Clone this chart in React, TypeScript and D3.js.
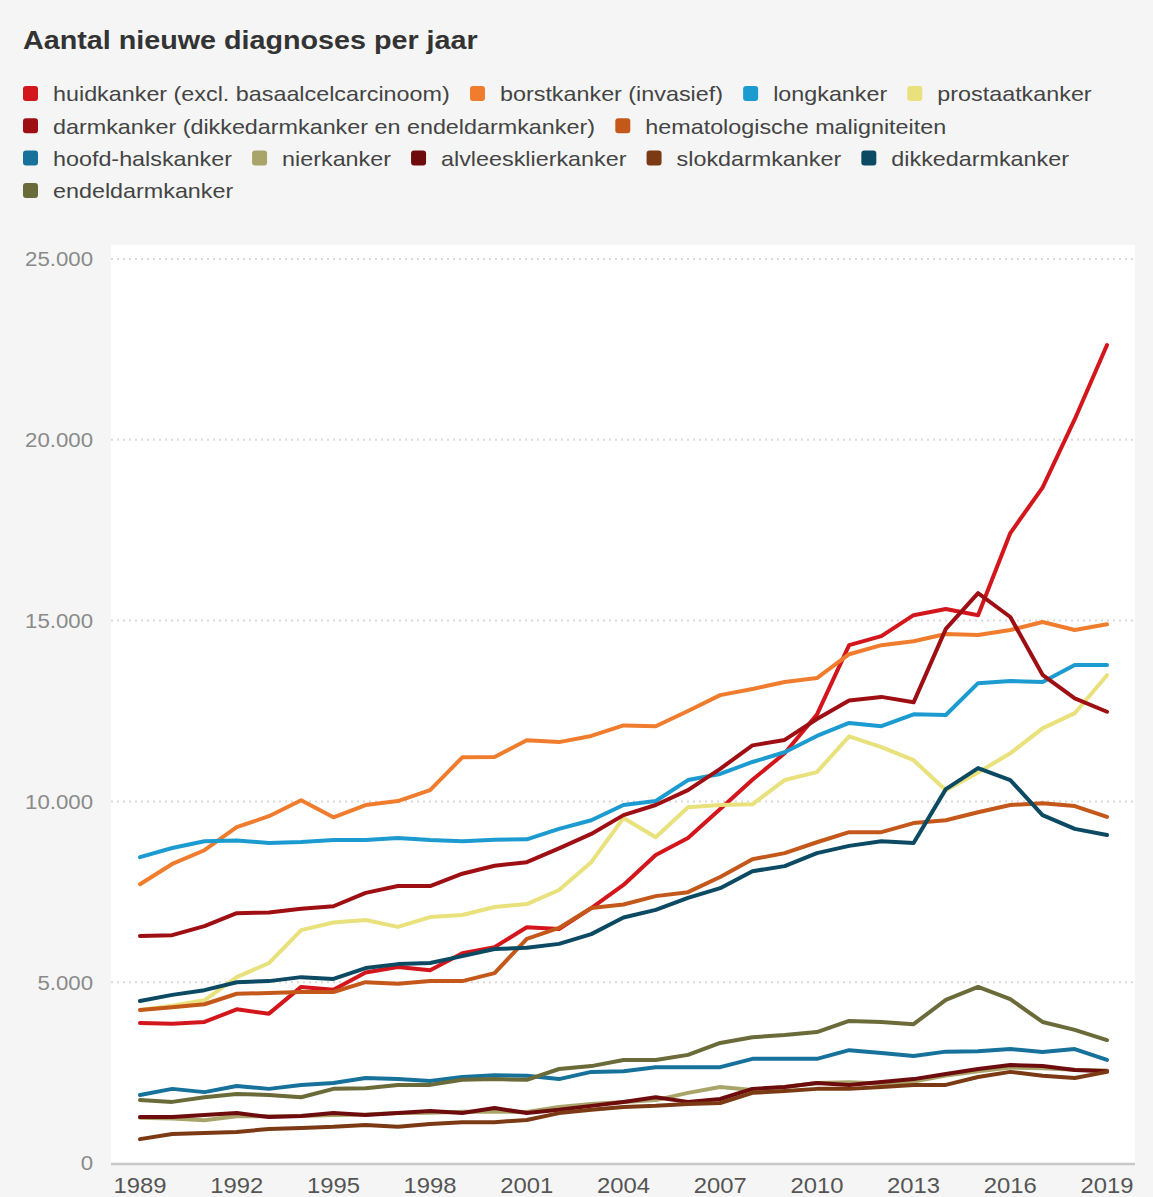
import React, { useMemo } from "react";
import * as d3 from "d3";

const years = d3.range(1989, 2020);
const xTickYears = [1989, 1992, 1995, 1998, 2001, 2004, 2007, 2010, 2013, 2016, 2019];
const yTicks = [0, 5000, 10000, 15000, 20000, 25000];

const title = "Aantal nieuwe diagnoses per jaar";

const names = [
  "huidkanker (excl. basaalcelcarcinoom)",
  "borstkanker (invasief)",
  "longkanker",
  "prostaatkanker",
  "darmkanker (dikkedarmkanker en endeldarmkanker)",
  "hematologische maligniteiten",
  "hoofd-halskanker",
  "nierkanker",
  "alvleesklierkanker",
  "slokdarmkanker",
  "dikkedarmkanker",
  "endeldarmkanker",
];

const colors = [
  "#d3161c", "#ef7d2d", "#1c9bd0", "#e8e17c", "#9e0f14", "#c4581b",
  "#16729b", "#a9a56a", "#6e0b0d", "#7b3a14", "#0b4a62", "#6b6b39",
];

const huid = [3870,3850,3900,4250,4130,4870,4790,5270,5420,5330,5800,5970,6520,6470,7050,7690,8520,8990,9790,10600,11330,12400,14320,14570,15150,15320,15150,17420,18680,20570,22620];
const borst = [7710,8270,8650,9290,9590,10030,9560,9900,10010,10310,11220,11230,11690,11640,11810,12100,12080,12500,12940,13110,13300,13410,14070,14320,14430,14630,14600,14740,14960,14740,14900];
const long = [8460,8710,8900,8920,8850,8880,8930,8930,8990,8930,8900,8940,8950,9240,9480,9900,10010,10590,10760,11090,11360,11810,12170,12080,12410,12390,13270,13330,13300,13770,13770];
const prostaat = [4230,4350,4500,5140,5530,6440,6650,6720,6530,6800,6860,7080,7160,7550,8320,9540,9010,9840,9900,9920,10590,10810,11800,11500,11140,10310,10800,11330,12020,12440,13490];
const darm = [6280,6300,6550,6910,6930,7030,7100,7470,7660,7660,8000,8220,8320,8700,9100,9620,9900,10310,10900,11550,11700,12280,12790,12890,12740,14770,15760,15100,13500,12850,12480];
const hemato = [4230,4310,4390,4680,4700,4730,4730,5000,4960,5030,5030,5250,6200,6500,7050,7150,7380,7490,7910,8400,8570,8870,9150,9150,9400,9480,9700,9900,9950,9870,9570];
const hoofdhals = [1880,2050,1960,2130,2050,2160,2210,2350,2320,2270,2380,2430,2410,2320,2520,2540,2650,2650,2650,2880,2880,2880,3120,3040,2960,3080,3090,3150,3070,3150,2850];
const nier = [1250,1230,1180,1290,1290,1300,1330,1340,1380,1390,1420,1420,1410,1550,1630,1690,1740,1940,2100,2020,2100,2210,2230,2200,2250,2420,2540,2640,2620,2580,2560];
const alvlees = [1270,1270,1330,1380,1270,1300,1380,1330,1380,1440,1380,1520,1380,1470,1580,1690,1820,1690,1770,2050,2100,2210,2160,2240,2320,2460,2600,2710,2680,2570,2540];
const slokdarm = [660,800,830,860,940,970,1000,1050,1000,1080,1130,1130,1190,1380,1470,1550,1580,1630,1660,1940,1990,2050,2050,2100,2160,2160,2380,2520,2410,2350,2520];
const dikkedarm = [4480,4650,4780,5000,5030,5140,5090,5390,5500,5530,5720,5920,5950,6060,6330,6790,7000,7330,7600,8070,8210,8570,8770,8900,8850,10340,10920,10590,9620,9240,9070];
const endeldarm = [1740,1690,1820,1910,1880,1820,2050,2070,2160,2160,2300,2320,2300,2600,2680,2850,2850,2990,3320,3480,3540,3620,3930,3900,3840,4510,4870,4530,3900,3680,3400];

const seriesValues = [huid, borst, long, prostaat, darm, hemato, hoofdhals, nier, alvlees, slokdarm, dikkedarm, endeldarm];

const W = 1153;
const H = 1197;
const FONT = "'Liberation Sans', Arial, Helvetica, sans-serif";
const LEGEND_FS = 21;
const TITLE_FS = 26;
const YT_FS = 21;
const XT_FS = 22;

const nl = d3.formatLocale({ decimal: ",", thousands: ".", grouping: [3], currency: ["€", ""] });
const fmt = nl.format(",d");

function measure(text: string, size: number, weight = "normal") {
  const c = document.createElement("canvas");
  const ctx = c.getContext("2d")!;
  ctx.font = `${weight} ${size}px ${FONT}`;
  return ctx.measureText(text).width;
}

export default function App() {
  const x = d3.scaleLinear().domain([1989, 2019]).range([140, 1107]);
  const y = d3.scaleLinear().domain([0, 25000]).range([1163, 259]);
  const line = d3
    .line<number>()
    .x((_, i) => x(years[i]))
    .y((d) => y(d));

  const { legend, sxL, sxT, sxY, sxX } = useMemo(() => {
    const sxL = 397 / measure(names[0], LEGEND_FS);
    const sxT = 455 / measure(title, TITLE_FS, "bold");
    const sxY = 68 / measure("25.000", YT_FS);
    const sxX = 53 / measure("1989", XT_FS);
    const items: { name: string; color: string; x: number; row: number }[] = [];
    let cx = 23;
    let row = 0;
    const maxX = 1135;
    names.forEach((n, i) => {
      const w = 30 + measure(n, LEGEND_FS) * sxL;
      if (cx + w > maxX && cx > 23) {
        row += 1;
        cx = 23;
      }
      items.push({ name: n, color: colors[i], x: cx, row });
      cx += w + 20;
    });
    return { legend: items, sxL, sxT, sxY, sxX };
  }, []);

  return (
    <svg
      width={W}
      height={H}
      style={{ position: "absolute", left: 0, top: 0, fontFamily: FONT }}
    >
      <rect x={0} y={0} width={W} height={H} fill="#f5f5f5" />
      <text
        transform={`translate(23,49) scale(${sxT},1)`}
        fontSize={TITLE_FS}
        fontWeight="bold"
        fill="#333"
      >
        {title}
      </text>
      {legend.map((it, i) => {
        const cy = 94 + it.row * 32.3;
        return (
          <g key={i}>
            <rect x={it.x} y={cy - 8} width={15} height={15} rx={3} fill={it.color} />
            <text
              transform={`translate(${it.x + 30},${cy}) scale(${sxL},1)`}
              dy="0.35em"
              fontSize={LEGEND_FS}
              fill="#444"
            >
              {it.name}
            </text>
          </g>
        );
      })}
      <rect x={111} y={245} width={1024} height={918} fill="#ffffff" />
      {yTicks.filter((t) => t > 0).map((t) => (
        <line
          key={t}
          x1={111}
          x2={1135}
          y1={y(t)}
          y2={y(t)}
          stroke="#d9d9d9"
          strokeWidth={2}
          strokeDasharray="2,4"
        />
      ))}
      {yTicks.map((t) => (
        <text
          key={t}
          transform={`translate(93,${y(t)}) scale(${sxY},1)`}
          dy="0.35em"
          textAnchor="end"
          fontSize={YT_FS}
          fill="#8a8a8a"
        >
          {fmt(t)}
        </text>
      ))}
      {seriesValues.map((vals, i) => (
        <path
          key={i}
          d={line(vals) || ""}
          fill="none"
          stroke={colors[i]}
          strokeWidth={4}
          strokeLinejoin="round"
          strokeLinecap="round"
        />
      ))}
      <line x1={111} x2={1135} y1={1164} y2={1164} stroke="#c8c8c8" strokeWidth={2.5} />
      {xTickYears.map((t) => (
        <text
          key={t}
          transform={`translate(${x(t)},1185) scale(${sxX},1)`}
          dy="0.35em"
          textAnchor="middle"
          fontSize={XT_FS}
          fill="#555"
        >
          {t}
        </text>
      ))}
    </svg>
  );
}
